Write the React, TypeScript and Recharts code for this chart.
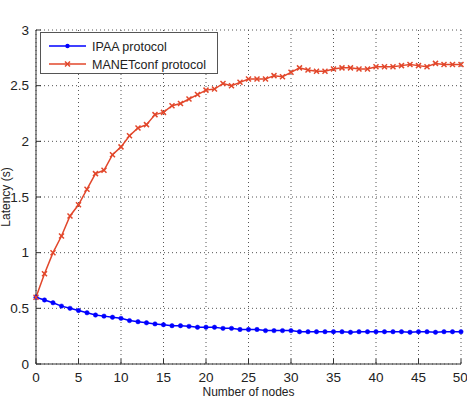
import React from 'react';
import { LineChart, Line, XAxis, YAxis, CartesianGrid, Legend } from 'recharts';

const nodes = Array.from({ length: 51 }, (_, i) => i);

const ipaa = [
    0.6, 0.575, 0.55, 0.52, 0.5, 0.48, 0.46, 0.44, 0.43, 0.42,
    0.41, 0.39, 0.38, 0.37, 0.36, 0.353, 0.344, 0.344, 0.338, 0.33,
    0.33, 0.33, 0.32, 0.32, 0.31, 0.31, 0.31, 0.3, 0.3, 0.3,
    0.3, 0.29, 0.29, 0.29, 0.29, 0.29, 0.29, 0.285, 0.29, 0.29,
    0.29, 0.29, 0.29, 0.29, 0.285, 0.29, 0.29, 0.285, 0.29, 0.29,
    0.29,
];

const manetconf = [
    0.6, 0.81, 1.0, 1.15, 1.33, 1.43, 1.57, 1.71, 1.74, 1.88,
    1.95, 2.05, 2.12, 2.15, 2.24, 2.26, 2.32, 2.34, 2.38, 2.42,
    2.46, 2.47, 2.52, 2.5, 2.53, 2.56, 2.56, 2.56, 2.59, 2.58,
    2.62, 2.66, 2.64, 2.63, 2.63, 2.65, 2.66, 2.66, 2.65, 2.65,
    2.67, 2.67, 2.67, 2.68, 2.69, 2.68, 2.67, 2.7, 2.69, 2.69,
    2.69,
];

const xTicks = [0, 5, 10, 15, 20, 25, 30, 35, 40, 45, 50];
const yTicks = [0, 0.5, 1, 1.5, 2, 2.5, 3];

const BLUE = '#0000ff';
const RED = '#e2472b';
const FONT = '"Liberation Sans", Arial, sans-serif';

const data = nodes.map((n, i) => ({ n, ipaa: ipaa[i], manetconf: manetconf[i] }));

const CrossDot = (props: any) => {
    const { cx, cy } = props;
    if (cx == null || cy == null) return null;
    const s = 2.5;
    return (
        <g stroke={RED} strokeWidth={1.5}>
            <line x1={cx - s} y1={cy - s} x2={cx + s} y2={cy + s} />
            <line x1={cx - s} y1={cy + s} x2={cx + s} y2={cy - s} />
        </g>
    );
};

const LegendBox = () => (
    <div
        style={{
            width: 176,
            height: 40,
            border: '1px solid #555',
            background: '#fff',
            fontFamily: FONT,
        }}
    >
        <svg width={176} height={40} style={{ display: 'block' }}>
            <line x1={8} y1={13} x2={45} y2={13} stroke={BLUE} strokeWidth={1.5} />
            <circle cx={26.5} cy={13} r={2.2} fill={BLUE} />
            <text x={51} y={17.5} fontSize={12.5} fill="#222" fontFamily={FONT}>IPAA protocol</text>
            <line x1={8} y1={31} x2={45} y2={31} stroke={RED} strokeWidth={1.5} />
            <CrossDot cx={26.5} cy={31} />
            <text x={51} y={35.5} fontSize={12.5} fill="#222" fontFamily={FONT}>MANETconf protocol</text>
        </svg>
    </div>
);

const App = () => {
    return (
        <div style={{ position: 'absolute', left: 0, top: 0, background: '#fff' }}>
            <LineChart
                width={467}
                height={398}
                data={data}
                margin={{ top: 30, right: 6, left: 0, bottom: 0 }}
                style={{ fontFamily: FONT }}
            >
                <CartesianGrid stroke="#555" strokeDasharray="1 3" />
                <XAxis
                    dataKey="n"
                    type="number"
                    domain={[0, 50]}
                    ticks={xTicks}
                    height={34}
                    stroke="#333"
                    tickSize={-5}
                    tickMargin={13}
                    tick={{ fill: '#222', fontSize: 13.5 }}
                    label={{ value: 'Number of nodes', position: 'insideBottom', offset: 2, fill: '#222', fontSize: 12 }}
                />
                <XAxis
                    xAxisId="top"
                    dataKey="n"
                    type="number"
                    domain={[0, 50]}
                    ticks={xTicks}
                    orientation="top"
                    height={0}
                    stroke="#333"
                    tickSize={-5}
                    tickFormatter={() => ''}
                />
                <YAxis
                    type="number"
                    domain={[0, 3]}
                    ticks={yTicks}
                    width={36}
                    stroke="#333"
                    tickSize={-5}
                    tickMargin={12}
                    tick={{ fill: '#222', fontSize: 13.5 }}
                    label={{ value: 'Latency (s)', angle: -90, position: 'center', dx: -12, fill: '#222', fontSize: 12 }}
                />
                <YAxis
                    yAxisId="right"
                    type="number"
                    domain={[0, 3]}
                    ticks={yTicks}
                    orientation="right"
                    width={0}
                    stroke="#333"
                    tickSize={-5}
                    tickFormatter={() => ''}
                />
                <Legend
                    layout="horizontal"
                    verticalAlign="middle"
                    align="center"
                    content={<LegendBox />}
                    wrapperStyle={{ position: 'absolute', left: 40, top: 32, width: 178, height: 42 }}
                />
                <Line
                    type="linear"
                    dataKey="ipaa"
                    stroke={BLUE}
                    strokeWidth={1.5}
                    dot={{ r: 2.2, fill: BLUE, stroke: BLUE, strokeWidth: 0.5 }}
                    isAnimationActive={false}
                />
                <Line
                    type="linear"
                    dataKey="manetconf"
                    stroke={RED}
                    strokeWidth={1.5}
                    dot={<CrossDot />}
                    isAnimationActive={false}
                />
            </LineChart>
        </div>
    );
};

export default App;
